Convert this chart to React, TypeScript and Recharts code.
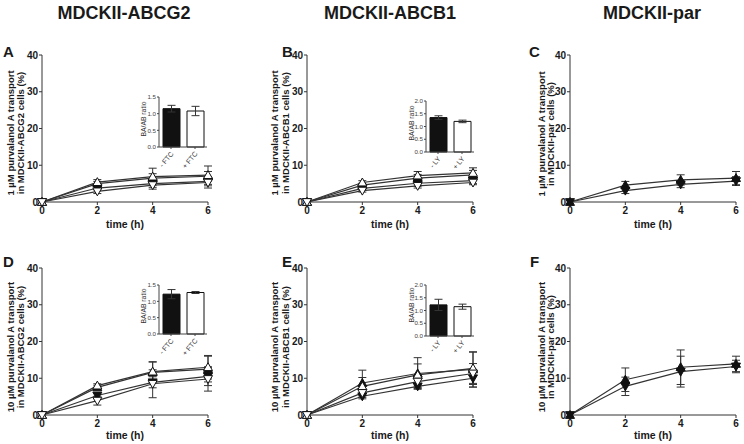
import { Bar, BarChart, Cell, ErrorBar, Line, LineChart, XAxis, YAxis } from 'recharts';

const FONT = '"Liberation Sans", Arial, Helvetica, sans-serif';
const INK = '#1a1a1a';
const LINE = '#333';

const times = [0, 2, 4, 6];
const timeTicks = [0, 2, 4, 6];
const pctTicks = [0, 10, 20, 30, 40];

// A: 1 µM, MDCKII-ABCG2
const aBaCtrl = [0, 5.0, 6.5, 7.0];
const aBaCtrlSd = [0, 0.6, 1.2, 1.3];
const aBaFtc = [0, 5.4, 6.9, 7.3];
const aBaFtcSd = [0, 0.7, 2.3, 2.5];
const aAbCtrl = [0, 3.8, 5.0, 5.6];
const aAbCtrlSd = [0, 0.5, 1.0, 1.2];
const aAbFtc = [0, 2.9, 4.6, 5.3];
const aAbFtcSd = [0, 0.6, 1.1, 1.5];

// B: 1 µM, MDCKII-ABCB1
const bBaCtrl = [0, 4.6, 6.5, 7.4];
const bBaCtrlSd = [0, 0.5, 1.0, 1.2];
const bBaLy = [0, 5.3, 7.2, 7.9];
const bBaLySd = [0, 0.5, 1.1, 1.4];
const bAbCtrl = [0, 3.7, 5.1, 5.8];
const bAbCtrlSd = [0, 0.5, 0.8, 0.8];
const bAbLy = [0, 3.1, 4.4, 5.3];
const bAbLySd = [0, 0.4, 0.6, 0.6];

// C: 1 µM, MDCKII-par
const cBa = [0, 4.6, 6.0, 6.5];
const cBaSd = [0, 1.0, 1.4, 1.8];
const cAb = [0, 3.1, 4.8, 5.7];
const cAbSd = [0, 0.8, 0.9, 1.2];

// D: 10 µM, MDCKII-ABCG2
const dBaCtrl = [0, 7.5, 11.6, 12.5];
const dBaCtrlSd = [0, 0.6, 2.8, 3.5];
const dBaFtc = [0, 8.0, 11.8, 13.0];
const dBaFtcSd = [0, 0.5, 2.7, 3.2];
const dAbCtrl = [0, 5.3, 8.9, 10.5];
const dAbCtrlSd = [0, 0.8, 1.5, 2.5];
const dAbFtc = [0, 3.9, 8.5, 9.8];
const dAbFtcSd = [0, 1.2, 3.8, 3.3];

// E: 10 µM, MDCKII-ABCB1
const eBaCtrl = [0, 8.7, 11.3, 12.4];
const eBaCtrlSd = [0, 3.5, 4.3, 4.8];
const eBaLy = [0, 7.8, 10.9, 12.7];
const eBaLySd = [0, 2.4, 3.0, 4.4];
const eAbCtrl = [0, 5.1, 7.8, 10.0];
const eAbCtrlSd = [0, 0.7, 0.6, 2.4];
const eAbLy = [0, 6.0, 9.1, 11.3];
const eAbLySd = [0, 1.2, 1.6, 2.7];

// F: 10 µM, MDCKII-par
const fBa = [0, 9.6, 13.0, 13.9];
const fBaSd = [0, 3.2, 4.7, 2.1];
const fAb = [0, 7.8, 11.8, 13.2];
const fAbSd = [0, 2.5, 4.2, 1.7];

// BA/AB ratio insets
const ftcLabels = ['- FTC', '+ FTC'];
const lyLabels = ['- LY', '+ LY'];
const insetA = [1.15, 1.08];
const insetASd = [0.1, 0.14];
const insetB = [1.35, 1.2];
const insetBSd = [0.07, 0.05];
const insetD = [1.22, 1.27];
const insetDSd = [0.14, 0.03];
const insetE = [1.22, 1.15];
const insetESd = [0.22, 0.1];
const ratioTicks15 = [0, 0.5, 1.0, 1.5];
const ratioTicks20 = [0, 0.5, 1.0, 1.5, 2.0];

type Series = { values: number[]; errors: number[]; shape: 'up' | 'down'; filled: boolean };

const mk = (values: number[], errors: number[], shape: 'up' | 'down', filled: boolean): Series => ({
  values,
  errors,
  shape,
  filled,
});

// filled first so open markers end up on top
const seriesA = [mk(aBaCtrl, aBaCtrlSd, 'up', true), mk(aAbCtrl, aAbCtrlSd, 'down', true), mk(aBaFtc, aBaFtcSd, 'up', false), mk(aAbFtc, aAbFtcSd, 'down', false)];
const seriesB = [mk(bBaCtrl, bBaCtrlSd, 'up', true), mk(bAbCtrl, bAbCtrlSd, 'down', true), mk(bBaLy, bBaLySd, 'up', false), mk(bAbLy, bAbLySd, 'down', false)];
const seriesC = [mk(cBa, cBaSd, 'up', true), mk(cAb, cAbSd, 'down', true)];
const seriesD = [mk(dBaCtrl, dBaCtrlSd, 'up', true), mk(dAbCtrl, dAbCtrlSd, 'down', true), mk(dBaFtc, dBaFtcSd, 'up', false), mk(dAbFtc, dAbFtcSd, 'down', false)];
const seriesE = [mk(eBaCtrl, eBaCtrlSd, 'up', true), mk(eAbCtrl, eAbCtrlSd, 'down', true), mk(eBaLy, eBaLySd, 'up', false), mk(eAbLy, eAbLySd, 'down', false)];
const seriesF = [mk(fBa, fBaSd, 'up', true), mk(fAb, fAbSd, 'down', true)];

function Marker({ cx, cy, shape, filled }: { cx?: number; cy?: number; shape: 'up' | 'down'; filled: boolean }) {
  if (cx == null || cy == null) return null;
  const r = 4.5;
  const pts =
    shape === 'up'
      ? `${cx},${cy - r} ${cx + r},${cy + r * 0.75} ${cx - r},${cy + r * 0.75}`
      : `${cx},${cy + r} ${cx + r},${cy - r * 0.75} ${cx - r},${cy - r * 0.75}`;
  return <polygon points={pts} fill={filled ? '#111' : '#fff'} stroke="#111" strokeWidth={1} />;
}

const PW = 166;
const PH = 147;
const tickStyle = { fontSize: 10, fontWeight: 700, fill: INK };

function TransportPanel({ left, top, series }: { left: number; top: number; series: Series[] }) {
  const rows = times.map((t, i) => {
    const row: Record<string, number> = { t };
    series.forEach((s, k) => {
      row[`v${k}`] = s.values[i];
      row[`e${k}`] = s.errors[i];
    });
    return row;
  });
  return (
    <div style={{ position: 'absolute', left: left - 40, top: top - 10 }}>
      <LineChart width={PW + 50} height={PH + 40} data={rows} margin={{ top: 10, right: 10, bottom: 10, left: 0 }}>
        <XAxis
          dataKey="t"
          type="number"
          domain={[0, 6]}
          ticks={timeTicks}
          height={20}
          tickSize={3}
          tickMargin={2}
          tick={tickStyle}
          stroke={LINE}
        />
        <YAxis
          type="number"
          domain={[0, 40]}
          ticks={pctTicks}
          interval={0}
          width={40}
          tickSize={3}
          tickMargin={1}
          tick={tickStyle}
          stroke={LINE}
        />
        {series.map((s, k) => (
          <Line
            key={k}
            dataKey={`v${k}`}
            stroke={LINE}
            strokeWidth={1.2}
            isAnimationActive={false}
            dot={(p: any) => <Marker key={`d${k}-${p.index}`} cx={p.cx} cy={p.cy} shape={s.shape} filled={s.filled} />}
          >
            <ErrorBar dataKey={`e${k}`} width={4} stroke={LINE} strokeWidth={1} direction="y" />
          </Line>
        ))}
      </LineChart>
    </div>
  );
}

function SlantTick(props: any) {
  const { x, y, payload } = props;
  return (
    <text transform={`translate(${x + 3},${y + 3}) rotate(-50)`} textAnchor="end" fontSize={7} fill="#333">
      {payload.value}
    </text>
  );
}

function RatioInset(props: {
  left: number;
  top: number;
  height: number;
  max: number;
  ticks: number[];
  labels: string[];
  values: number[];
  errors: number[];
}) {
  const { left, top, height, max, ticks, labels, values, errors } = props;
  const rows = labels.map((l, i) => ({ l, v: values[i], e: errors[i] }));
  return (
    <div style={{ position: 'absolute', left: left - 22, top: top - 5 }}>
      <BarChart
        width={22 + 48 + 4}
        height={height + 5 + 26}
        data={rows}
        margin={{ top: 5, right: 4, bottom: 0, left: 0 }}
        barSize={17}
      >
        <XAxis dataKey="l" interval={0} height={26} tickSize={2} tick={<SlantTick />} stroke="#444" />
        <YAxis
          type="number"
          domain={[0, max]}
          ticks={ticks}
          interval={0}
          width={22}
          tickSize={2}
          tickMargin={1}
          tick={{ fontSize: 6.2, fill: '#444' }}
          tickFormatter={(v: number) => v.toFixed(1)}
          stroke="#444"
        />
        <Bar dataKey="v" stroke="#111" strokeWidth={1} isAnimationActive={false}>
          {rows.map((_, i) => (
            <Cell key={i} fill={i === 0 ? '#111' : '#fff'} />
          ))}
          <ErrorBar dataKey="e" width={4} stroke="#333" strokeWidth={1} />
        </Bar>
      </BarChart>
    </div>
  );
}

function YLabel({ x1, x2, y, lines }: { x1: number; x2: number; y: number; lines: [string, string] }) {
  return (
    <g fontSize={9.5} fontWeight={700} fill={INK}>
      <text transform={`translate(${x1},${y}) rotate(-90)`} textAnchor="middle">
        {lines[0]}
      </text>
      <text transform={`translate(${x2},${y}) rotate(-90)`} textAnchor="middle">
        {lines[1]}
      </text>
    </g>
  );
}

function RatioLabel({ x, y }: { x: number; y: number }) {
  return (
    <text transform={`translate(${x},${y}) rotate(-90)`} textAnchor="middle" fontSize={6.8} fill="#333">
      BA/AB ratio
    </text>
  );
}

export default function App() {
  return (
    <div
      style={{
        position: 'absolute',
        left: 0,
        top: 0,
        width: 744,
        height: 444,
        background: '#fff',
        fontFamily: FONT,
      }}
    >
      <TransportPanel left={42} top={55} series={seriesA} />
      <TransportPanel left={307} top={55} series={seriesB} />
      <TransportPanel left={570} top={55} series={seriesC} />
      <TransportPanel left={42} top={268} series={seriesD} />
      <TransportPanel left={307} top={268} series={seriesE} />
      <TransportPanel left={570} top={268} series={seriesF} />

      <RatioInset left={159} top={97} height={50} max={1.5} ticks={ratioTicks15} labels={ftcLabels} values={insetA} errors={insetASd} />
      <RatioInset left={426} top={101} height={51} max={2} ticks={ratioTicks20} labels={lyLabels} values={insetB} errors={insetBSd} />
      <RatioInset left={159} top={285} height={49} max={1.5} ticks={ratioTicks15} labels={ftcLabels} values={insetD} errors={insetDSd} />
      <RatioInset left={426} top={285} height={51} max={2} ticks={ratioTicks20} labels={lyLabels} values={insetE} errors={insetESd} />

      <svg
        width={744}
        height={444}
        style={{ position: 'absolute', left: 0, top: 0, pointerEvents: 'none' }}
        fontFamily={FONT}
      >
        <g fontSize={18} fontWeight={700} fill={INK} textAnchor="middle">
          <text x={124} y={19}>MDCKII-ABCG2</text>
          <text x={390} y={19}>MDCKII-ABCB1</text>
          <text x={652} y={19}>MDCKII-par</text>
        </g>
        <g fontSize={15} fontWeight={700} fill={INK}>
          <text x={3} y={57}>A</text>
          <text x={282} y={57}>B</text>
          <text x={529} y={57}>C</text>
          <text x={3} y={267}>D</text>
          <text x={282} y={267}>E</text>
          <text x={530} y={267}>F</text>
        </g>
        <g fontSize={10.5} fontWeight={700} fill={INK} textAnchor="middle">
          <text x={125} y={228}>time (h)</text>
          <text x={390} y={228}>time (h)</text>
          <text x={653} y={228}>time (h)</text>
          <text x={125} y={439}>time (h)</text>
          <text x={390} y={439}>time (h)</text>
          <text x={653} y={439}>time (h)</text>
        </g>
        <YLabel x1={13.5} x2={24} y={133} lines={['1 µM purvalanol A transport', 'in MDCKII-ABCG2 cells (%)']} />
        <YLabel x1={278} x2={288.5} y={133} lines={['1 µM purvalanol A transport', 'in MDCKII-ABCB1 cells (%)']} />
        <YLabel x1={544.5} x2={554} y={134} lines={['1 µM purvalanol A transport', 'in MDCKII-par cells (%)']} />
        <YLabel x1={13.5} x2={24} y={347} lines={['10 µM purvalanol A transport', 'in MDCKII-ABCG2 cells (%)']} />
        <YLabel x1={278} x2={288.5} y={347} lines={['10 µM purvalanol A transport', 'in MDCKII-ABCB1 cells (%)']} />
        <YLabel x1={544.5} x2={554} y={347} lines={['10 µM purvalanol A transport', 'in MDCKII-par cells (%)']} />
        <RatioLabel x={145.5} y={119} />
        <RatioLabel x={413.5} y={123} />
        <RatioLabel x={145.5} y={306} />
        <RatioLabel x={413.5} y={305} />
      </svg>
    </div>
  );
}
